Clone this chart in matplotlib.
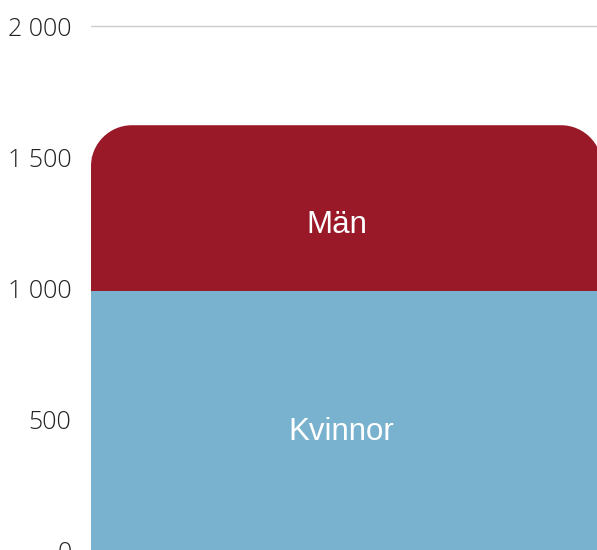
import matplotlib.pyplot as plt
from matplotlib.patches import PathPatch
from matplotlib.path import Path
from matplotlib.ticker import FuncFormatter

# stacked single bar: women at the bottom, men on top
categories = ["Kvinnor", "Män"]
values = [990, 632]
colors = ["#79b2ce", "#9a1928"]
y_ticks = [0, 500, 1000, 1500, 2000]

W, H = 597, 550
fig = plt.figure(figsize=(W / 100, H / 100), dpi=100)

# axes: x 91..597 px, y value 0 at 551 px, 2000 at 26 px (from top)
px_per_unit = 525 / 2000
y_top = 2000 + 26 / px_per_unit
ax = fig.add_axes([91 / W, -1 / H, (W - 91) / W, 551 / H])
ax.set_xlim(0, 1)
ax.set_ylim(0, y_top)

x0, x1 = 0, (602 - 91) / (W - 91)
bar_w = x1 - x0
total = sum(values)

# corner radius ~41 px, in data units; quarter circles as cubic beziers
rx = 41 / (W - 91)
ry = 41 / px_per_unit
k = 0.5523
verts = [
    (x0, 0), (x0, total - ry),
    (x0, total - ry + k * ry), (x0 + rx - k * rx, total), (x0 + rx, total),
    (x1 - rx, total),
    (x1 - rx + k * rx, total), (x1, total - ry + k * ry), (x1, total - ry),
    (x1, 0), (x0, 0),
]
codes = [Path.MOVETO, Path.LINETO,
         Path.CURVE4, Path.CURVE4, Path.CURVE4,
         Path.LINETO,
         Path.CURVE4, Path.CURVE4, Path.CURVE4,
         Path.LINETO, Path.CLOSEPOLY]
# top segment drawn reaching down to 0, the bottom bar covers its lower part
ax.add_patch(PathPatch(Path(verts, codes), facecolor=colors[1],
                       edgecolor="none", zorder=2))
ax.bar(x0, values[0], width=bar_w, align="edge", color=colors[0],
       edgecolor="none", zorder=3)

# labels inside the segments
bottoms = [0, values[0]]
x_off = [-0.01, -0.02]
y_off = [-8, -12]
for name, val, b, dx, dy in zip(categories, values, bottoms, x_off, y_off):
    ax.annotate(name, (x0 + bar_w / 2 + dx, b + val / 2),
                xytext=(0, dy), textcoords="offset points",
                ha="center", va="center", color="white", fontsize=22.5,
                family="Liberation Sans", zorder=4)

ax.set_yticks(y_ticks)
ax.yaxis.set_major_formatter(FuncFormatter(lambda v, p: f"{int(v):,}".replace(",", " ")))
ax.tick_params(axis="y", length=0, pad=14, labelsize=18, labelcolor="#222222")
for lab in ax.get_yticklabels():
    lab.set_family("Open Sans")
    lab.set_fontweight("light")
ax.set_xticks([])
ax.grid(axis="y", color="#cccccc", linewidth=1, zorder=1)
ax.set_axisbelow(True)
for s in ax.spines.values():
    s.set_visible(False)

fig.savefig("out.png", dpi=100)
